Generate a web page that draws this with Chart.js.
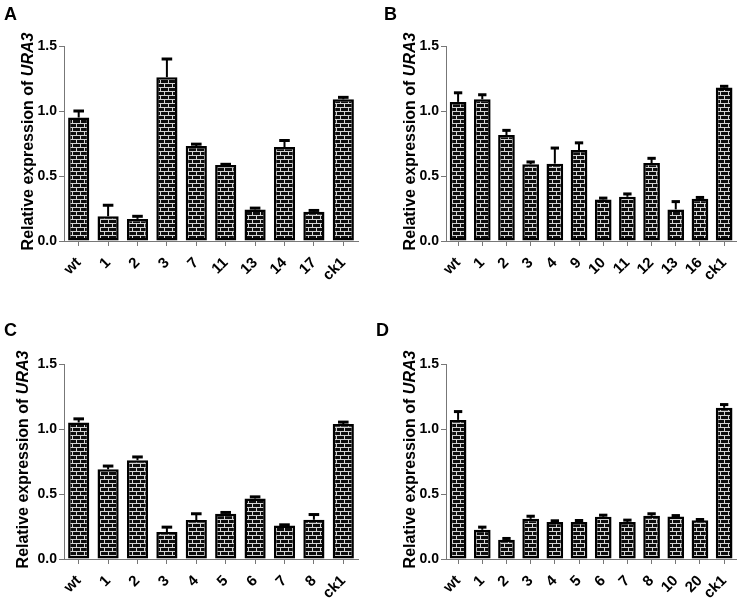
<!DOCTYPE html>
<html>
<head>
<meta charset="utf-8">
<script src="https://cdn.jsdelivr.net/npm/chart.js@4"></script>
<style>
  body { margin: 0; background: #fff; }
  #wrap { position: relative; width: 745px; height: 599px; }
  .panel { position: absolute; }
  .letter { position: absolute; font: bold 18px "Liberation Sans", Arial, sans-serif; color: #000; }
</style>
</head>
<body>
<div id="wrap">
  <canvas class="panel" id="chartA" width="372" height="300" style="left:0;top:0"></canvas>
  <canvas class="panel" id="chartB" width="373" height="300" style="left:372px;top:0"></canvas>
  <canvas class="panel" id="chartC" width="372" height="299" style="left:0;top:300px"></canvas>
  <canvas class="panel" id="chartD" width="373" height="299" style="left:372px;top:300px"></canvas>
  <div class="letter" style="left:4px;top:4px">A</div>
  <div class="letter" style="left:384px;top:4px">B</div>
  <div class="letter" style="left:4px;top:320px">C</div>
  <div class="letter" style="left:376px;top:320px">D</div>
</div>
<script>
// panel A
var labelsA = ['wt', '1', '2', '3', '7', '11', '13', '14', '17', 'ck1'];
var meansA = [0.95, 0.19, 0.17, 1.26, 0.73, 0.585, 0.243, 0.723, 0.225, 1.09];
var errA = [0.05, 0.085, 0.02, 0.14, 0.015, 0.005, 0.01, 0.05, 0.01, 0.015];

// panel B
var labelsB = ['wt', '1', '2', '3', '4', '9', '10', '11', '12', '13', '16', 'ck1'];
var meansB = [1.07, 1.09, 0.815, 0.59, 0.595, 0.70, 0.32, 0.34, 0.60, 0.243, 0.325, 1.18];
var errB = [0.07, 0.035, 0.036, 0.018, 0.12, 0.055, 0.01, 0.022, 0.036, 0.06, 0.01, 0.01];

// panel C
var labelsC = ['wt', '1', '2', '3', '4', '5', '6', '7', '8', 'ck1'];
var meansC = [1.05, 0.69, 0.76, 0.207, 0.30, 0.348, 0.465, 0.258, 0.302, 1.038];
var errC = [0.028, 0.025, 0.025, 0.038, 0.048, 0.01, 0.013, 0.005, 0.04, 0.015];

// panel D
var labelsD = ['wt', '1', '2', '3', '4', '5', '6', '7', '8', '10', '20', 'ck1'];
var meansD = [1.07, 0.225, 0.148, 0.309, 0.284, 0.284, 0.325, 0.284, 0.332, 0.327, 0.299, 1.163];
var errD = [0.064, 0.02, 0.01, 0.02, 0.01, 0.012, 0.012, 0.015, 0.016, 0.007, 0.005, 0.025];

Chart.defaults.font.family = '"Liberation Sans", Arial, sans-serif';

function brickPattern() {
  const c = document.createElement('canvas');
  c.width = 8; c.height = 8;
  const g = c.getContext('2d');
  g.fillStyle = '#0d0d0d';
  g.fillRect(0, 0, 8, 8);
  g.fillStyle = '#d4d4d4';
  g.fillRect(0, 3, 8, 1);
  g.fillRect(0, 7, 8, 1);
  g.fillRect(0, 0, 1, 3);
  g.fillRect(4, 4, 1, 3);
  return g.createPattern(c, 'repeat');
}

const errorBars = {
  id: 'errorBars',
  afterDatasetsDraw(chart, args, opts) {
    const ctx = chart.ctx;
    const meta = chart.getDatasetMeta(0);
    const y = chart.scales.y;
    const vals = chart.data.datasets[0].data;
    ctx.save();
    ctx.strokeStyle = '#000';
    meta.data.forEach((bar, i) => {
      const top = y.getPixelForValue(vals[i] + opts.errors[i]);
      const half = bar.width / 4;
      ctx.lineWidth = 2;
      ctx.beginPath();
      ctx.moveTo(bar.x, bar.y);
      ctx.lineTo(bar.x, top);
      ctx.stroke();
      ctx.lineWidth = 3;
      ctx.beginPath();
      ctx.moveTo(bar.x - half, top);
      ctx.lineTo(bar.x + half, top);
      ctx.stroke();
    });
    ctx.restore();
  }
};

// y title with italic gene name, baseline at opts.x
const yTitle = {
  id: 'yTitle',
  afterDraw(chart, args, opts) {
    const ctx = chart.ctx;
    const a = chart.chartArea;
    const normal = 'bold 16px "Liberation Sans", Arial, sans-serif';
    const ital = 'italic ' + normal;
    const t1 = 'Relative expression of ';
    const t2 = 'URA3';
    ctx.save();
    ctx.translate(opts.x, (a.top + a.bottom) / 2 - 2);
    ctx.rotate(-Math.PI / 2);
    ctx.textBaseline = 'alphabetic';
    ctx.textAlign = 'left';
    ctx.fillStyle = '#000';
    ctx.font = normal;
    const w1 = ctx.measureText(t1).width;
    ctx.font = ital;
    const w2 = ctx.measureText(t2).width;
    const x0 = -(w1 + w2) / 2;
    ctx.font = normal;
    ctx.fillText(t1, x0, 0);
    ctx.font = ital;
    ctx.fillText(t2, x0 + w1, 0);
    ctx.restore();
  }
};

function makeChart(id, labels, means, errs, g) {
  const ctx = document.getElementById(id).getContext('2d');
  return new Chart(ctx, {
    type: 'bar',
    data: {
      labels: labels,
      datasets: [{
        data: means,
        backgroundColor: brickPattern(),
        borderColor: '#000',
        borderWidth: 2.5,
        borderSkipped: false,
        barPercentage: g.bar,
        categoryPercentage: 1
      }]
    },
    plugins: [errorBars, yTitle],
    options: {
      responsive: false,
      animation: false,
      layout: { padding: { top: g.top, right: g.right, left: 0, bottom: 0 } },
      plugins: {
        legend: { display: false },
        tooltip: { enabled: false },
        errorBars: { errors: errs },
        yTitle: { x: g.titleX }
      },
      scales: {
        x: {
          grid: { drawOnChartArea: false, offset: false, color: '#777', tickLength: 5 },
          border: { color: '#777', width: 1 },
          ticks: {
            color: '#000',
            font: { size: 15, weight: 'bold' },
            autoSkip: false,
            maxRotation: 45,
            minRotation: 45,
            padding: 8
          },
          afterFit(s) { s.height = g.xh; }
        },
        y: {
          min: 0,
          max: 1.5,
          grid: { drawOnChartArea: false, color: '#777', tickLength: 5 },
          border: { color: '#777', width: 1 },
          ticks: {
            stepSize: 0.5,
            color: '#000',
            font: { size: 14, weight: 'bold' },
            padding: 2,
            callback: v => v.toFixed(1)
          },
          afterFit(s) { s.width = g.yw; }
        }
      }
    }
  });
}

makeChart('chartA', labelsA, meansA, errA, { top: 46, right: 14, xh: 59, yw: 64, bar: 0.72, titleX: 33 });
makeChart('chartB', labelsB, meansB, errB, { top: 46, right: 3, xh: 59, yw: 74, bar: 0.69, titleX: 43 });
makeChart('chartC', labelsC, meansC, errC, { top: 64, right: 14, xh: 40, yw: 64, bar: 0.72, titleX: 28 });
makeChart('chartD', labelsD, meansD, errD, { top: 64, right: 3, xh: 40, yw: 74, bar: 0.69, titleX: 43 });
</script>
</body>
</html>
